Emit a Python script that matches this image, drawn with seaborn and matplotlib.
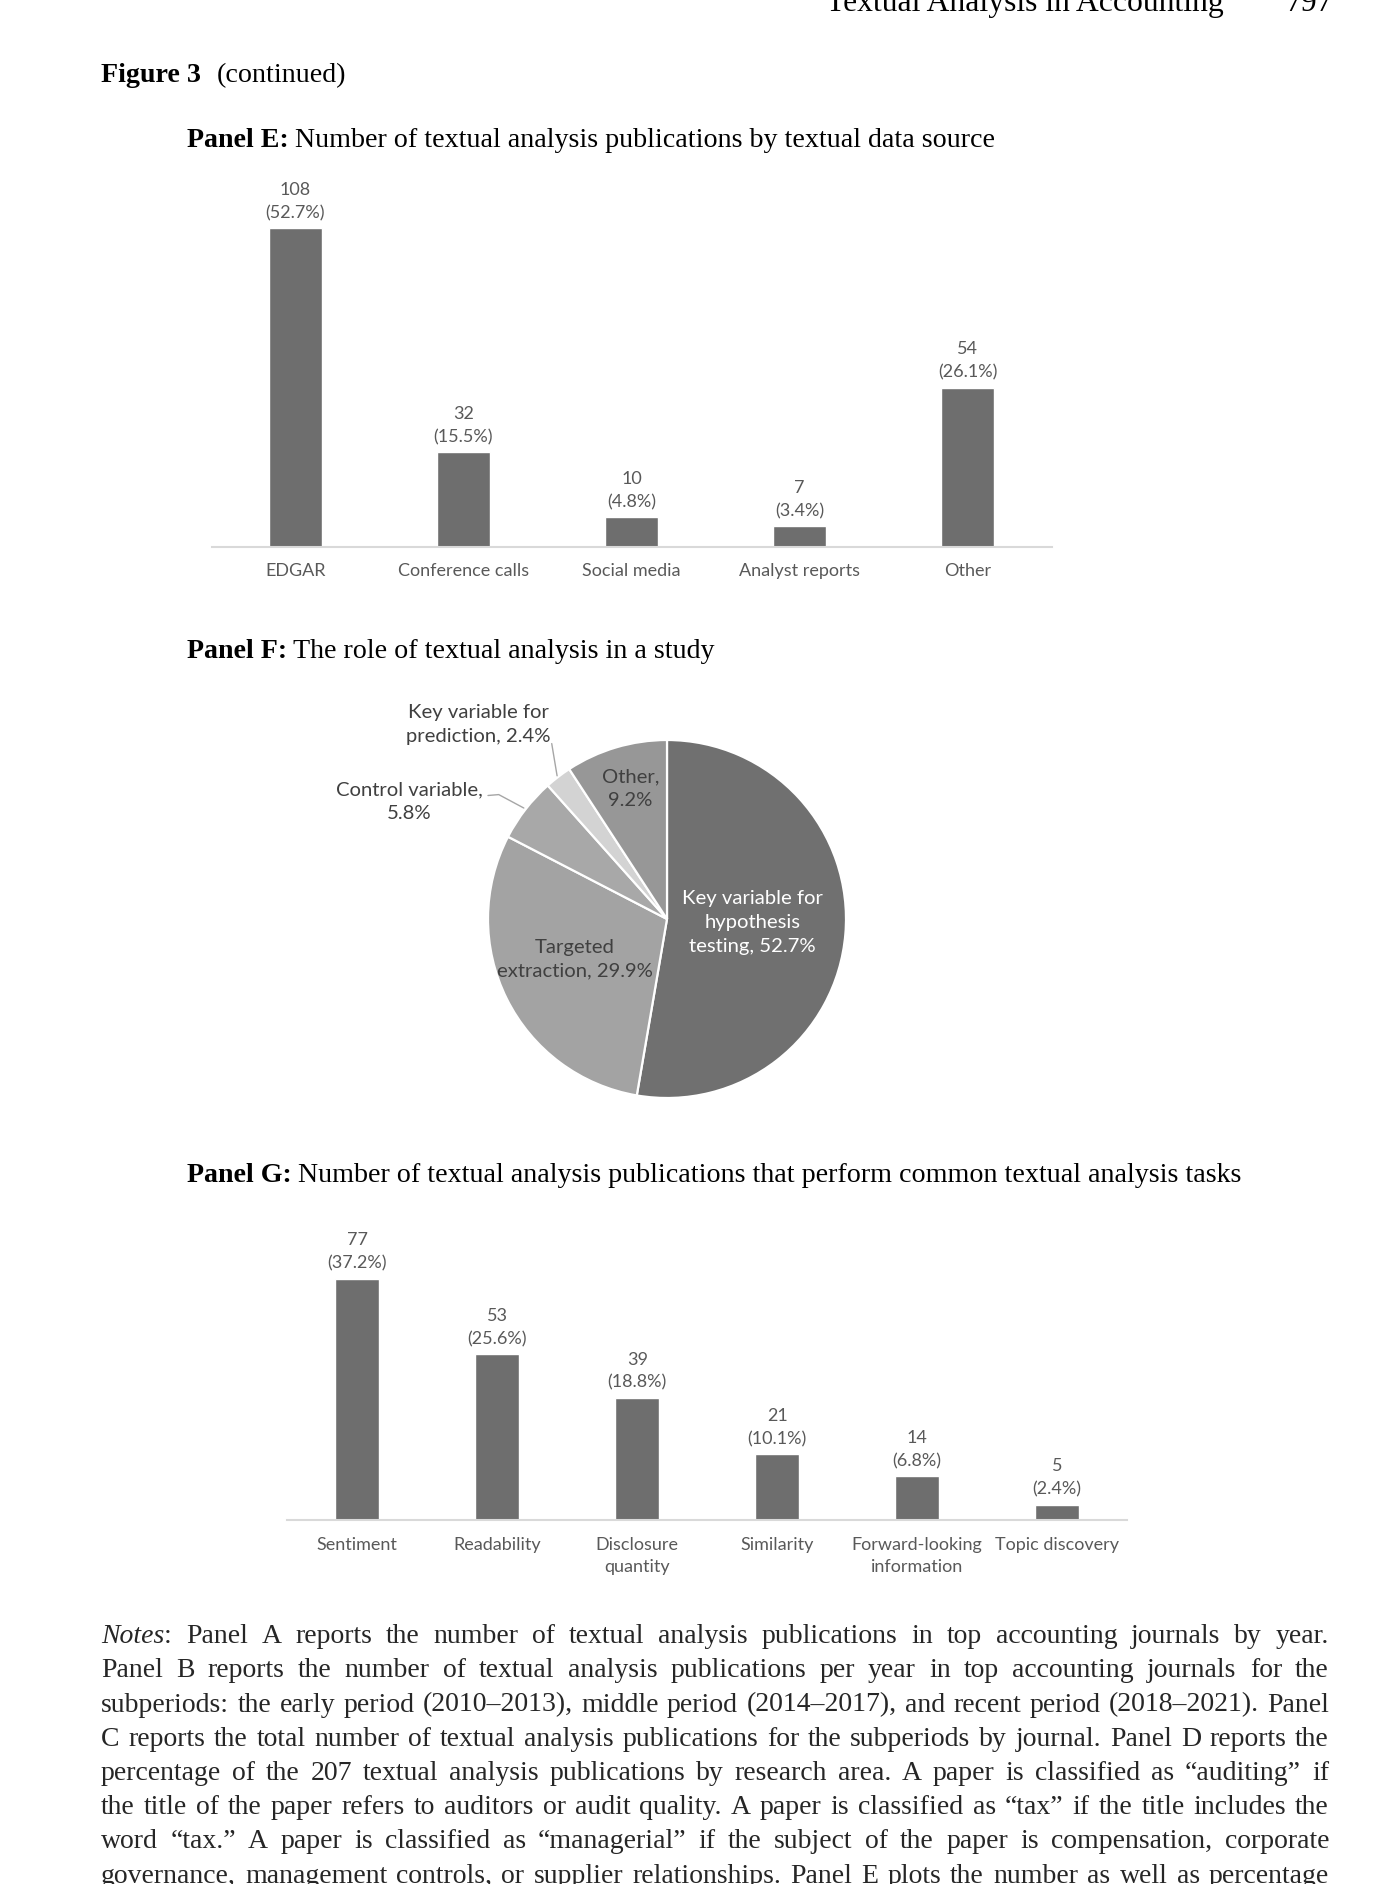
import numpy as np
import pandas as pd
import matplotlib
matplotlib.use("Agg")
import matplotlib.pyplot as plt
import seaborn as sns

# Panel E: publications by textual data source
sources = ["EDGAR", "Conference calls", "Social media", "Analyst reports", "Other"]
source_counts = [108, 32, 10, 7, 54]
source_pcts = [52.7, 15.5, 4.8, 3.4, 26.1]

# Panel F: role of textual analysis in a study
roles = ["Key variable for\nhypothesis\ntesting", "Targeted\nextraction",
         "Control variable", "Key variable for\nprediction", "Other"]
role_pcts = [52.7, 29.9, 5.8, 2.4, 9.2]
role_seps = [" ", " ", "\n", " ", "\n"]
role_colors = ["#707070", "#a3a3a3", "#a8a8a8", "#d3d3d3", "#979797"]

# Panel G: common textual analysis tasks
tasks = ["Sentiment", "Readability", "Disclosure\nquantity", "Similarity",
         "Forward-looking\ninformation", "Topic discovery"]
task_counts = [77, 53, 39, 21, 14, 5]
task_pcts = [37.2, 25.6, 18.8, 10.1, 6.8, 2.4]

notes_lines = [
    "Notes: Panel A reports the number of textual analysis publications in top accounting journals by year.",
    "Panel B reports the number of textual analysis publications per year in top accounting journals for the",
    "subperiods: the early period (2010–2013), middle period (2014–2017), and recent period (2018–2021). Panel",
    "C reports the total number of textual analysis publications for the subperiods by journal. Panel D reports the",
    "percentage of the 207 textual analysis publications by research area. A paper is classified as “auditing” if",
    "the title of the paper refers to auditors or audit quality. A paper is classified as “tax” if the title includes the",
    "word “tax.” A paper is classified as “managerial” if the subject of the paper is compensation, corporate",
    "governance, management controls, or supplier relationships. Panel E plots the number as well as percentage",
]

W, H = 1388, 1884
SERIF = "Liberation Serif"
BODY = 20.2
NOTES = 20
BAR_COLOR = "#6e6e6e"
LABEL_COLOR = "#595959"

sns.set_style("white")
plt.rcParams["font.family"] = ["Lato", "DejaVu Sans"]

fig = plt.figure(figsize=(W / 100, H / 100), dpi=100)
renderer = fig.canvas.get_renderer()


def add_axes_px(left, top, right, bottom):
    return fig.add_axes([left / W, 1 - bottom / H, (right - left) / W, (bottom - top) / H])


def put(x, y, s, size=BODY, **kw):
    # x, y in pixels from the top-left corner, y is the baseline
    t = fig.text(x / W, 1 - y / H, s, va="baseline", ha="left",
                 family=SERIF, fontsize=size, color="black", **kw)
    return t.get_window_extent(renderer).width


def bar_panel(ax, labels, counts, pcts, ymax):
    df = pd.DataFrame({"label": labels, "count": counts})
    sns.barplot(data=df, x="label", y="count", color=BAR_COLOR, width=0.31,
                saturation=1, ax=ax)
    ax.set_ylim(0, ymax)
    ax.set_xlabel("")
    ax.set_ylabel("")
    ax.set_yticks([])
    for side in ["top", "right", "left"]:
        ax.spines[side].set_visible(False)
    ax.spines["bottom"].set_color("#d9d9d9")
    ax.spines["bottom"].set_linewidth(1.5)
    ax.tick_params(axis="x", length=0, pad=12, labelsize=13, labelcolor=LABEL_COLOR)
    for lbl in ax.get_xticklabels():
        lbl.set_linespacing(1.5)
    for i, (c, p) in enumerate(zip(counts, pcts)):
        ax.annotate(f"{c}\n({p}%)", (i, c), xytext=(0, 5), textcoords="offset points",
                    ha="center", va="bottom", fontsize=13, color=LABEL_COLOR,
                    linespacing=1.55)


# running header
put(826, 11, "Textual Analysis in Accounting", size=22.8)
put(1286, 11, "797", size=22.8)

# figure title
w = put(101, 82, "Figure 3", weight="bold")
put(101 + w + 16, 82, "(continued)")

# Panel E
w = put(187, 147, "Panel E:", weight="bold")
put(187 + w + 6, 147, "Number of textual analysis publications by textual data source")
axE = add_axes_px(211.5, 192.9, 1051.5, 546.8)
bar_panel(axE, sources, source_counts, source_pcts, 120)

# Panel F
w = put(187, 658, "Panel F:", weight="bold")
put(187 + w + 6, 658, "The role of textual analysis in a study")
axF = add_axes_px(488, 740, 846, 1098)
axF.pie(role_pcts, colors=role_colors, startangle=90, counterclock=False, radius=1,
        wedgeprops=dict(edgecolor="white", linewidth=1.6))
axF.set_xlim(-1, 1)
axF.set_ylim(-1, 1)
label_pos = [(0.476, -0.02), (-0.515, -0.224), (-1.44, 0.654), (-1.054, 1.084), (-0.204, 0.729)]
for name, p, sep, (lx, ly), col in zip(roles, role_pcts, role_seps, label_pos,
                                       ["white", "#404040", "#404040", "#404040", "#404040"]):
    axF.text(lx, ly, f"{name},{sep}{p}%", ha="center", va="center", fontsize=14.6,
             color=col, linespacing=1.5)
axF.plot([-1.0, -0.94, -0.80], [0.69, 0.695, 0.62], color="#a6a6a6", lw=1, clip_on=False)
axF.plot([-0.644, -0.614], [0.98, 0.80], color="#a6a6a6", lw=1, clip_on=False)

# Panel G
w = put(187, 1182, "Panel G:", weight="bold")
put(187 + w + 6, 1182, "Number of textual analysis publications that perform common textual analysis tasks")
axG = add_axes_px(287.2, 1237.9, 1127.2, 1520.2)
bar_panel(axG, tasks, task_counts, task_pcts, 90)

# justified notes paragraph
left, right = 101, 1329
base, step = 1643, 34.25
for k, line in enumerate(notes_lines):
    y = 1 - (base + k * step) / H
    pieces = []
    for word in line.split(" "):
        if word == "Notes:":
            parts = [("Notes", "italic"), (":", "normal")]
        else:
            parts = [(word, "normal")]
        texts = []
        width = 0
        for s, style in parts:
            t = fig.text(0, y, s, va="baseline", ha="left", family=SERIF,
                         fontsize=NOTES, style=style)
            pw = t.get_window_extent(renderer).width
            texts.append((t, pw))
            width += pw
        pieces.append((texts, width))
    total = sum(p[1] for p in pieces)
    gap = (right - left - total) / (len(pieces) - 1)
    x = left
    for texts, width in pieces:
        xx = x
        for t, pw in texts:
            t.set_x(xx / W)
            xx += pw
        x += width + gap

fig.savefig("out.png", dpi=100)
